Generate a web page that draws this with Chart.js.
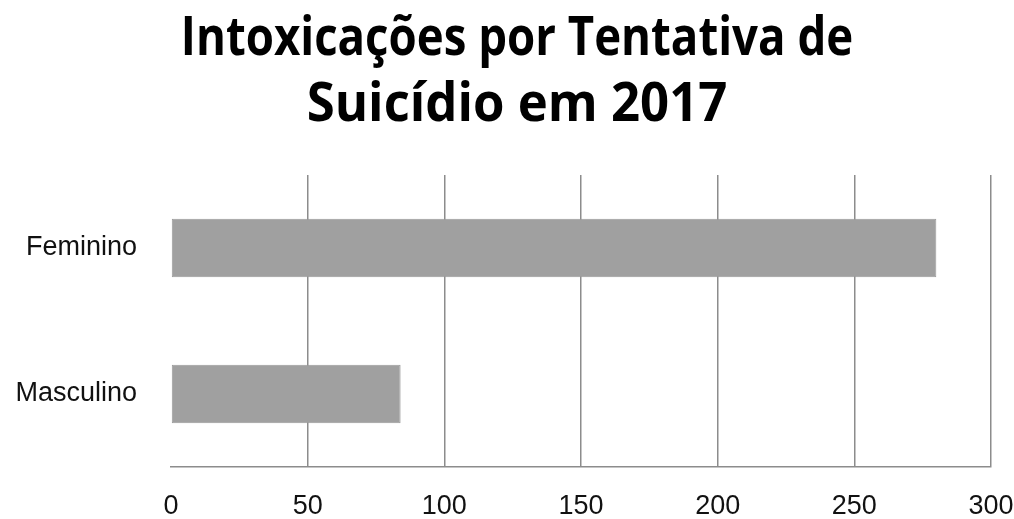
<!DOCTYPE html>
<html>
<head>
<meta charset="utf-8">
<script src="https://cdn.jsdelivr.net/npm/chart.js@4/dist/chart.umd.min.js"></script>
<style>
  html, body { margin: 0; padding: 0; background: #fff; }
  #wrap { width: 1014px; height: 519px; }
</style>
</head>
<body>
<div id="wrap"><canvas id="chart"></canvas></div>
<script>
// categorias e valores
const categorias = ['Feminino', 'Masculino'];
const casos = [280, 84];
const tituloLinhas = ['Intoxicações por Tentativa de', 'Suicídio em 2017'];
const eixoMax = 300;
const eixoPasso = 50;

const corGrade = '#8c8c8c';
const fonteEixo = { family: '"Liberation Sans", Arial', size: 27 };

// título em duas linhas, fonte pesada e estreita
const tituloFonte = '700 53px "Open Sans"';
const tituloCentroX = 517;
const tituloBase = 55;
const tituloEntrelinha = 66;
const tituloEscalaX = [0.86, 0.96];

const tituloPlugin = {
    id: 'tituloCondensado',
    afterDraw(chart) {
        const ctx = chart.ctx;
        ctx.save();
        ctx.font = tituloFonte;
        ctx.fillStyle = '#000';
        ctx.textAlign = 'center';
        ctx.textBaseline = 'alphabetic';
        tituloLinhas.forEach((linha, i) => {
            ctx.save();
            ctx.translate(tituloCentroX, tituloBase + i * tituloEntrelinha);
            ctx.scale(tituloEscalaX[i], 1);
            ctx.fillText(linha, 0, 0);
            ctx.restore();
        });
        ctx.restore();
    }
};

new Chart(document.getElementById('chart'), {
    type: 'bar',
    data: {
        labels: categorias,
        datasets: [{
            data: casos,
            backgroundColor: '#a0a0a0',
            borderColor: '#999999',
            borderWidth: 1,
            borderSkipped: false,
            categoryPercentage: 0.8,
            barPercentage: 0.5
        }]
    },
    options: {
        indexAxis: 'y',
        responsive: true,
        maintainAspectRatio: false,
        animation: false,
        layout: { padding: { left: 0, right: 0, top: 175, bottom: 0 } },
        plugins: {
            legend: { display: false },
            tooltip: { enabled: false },
            title: { display: false }
        },
        scales: {
            x: {
                min: 0,
                max: eixoMax,
                ticks: {
                    stepSize: eixoPasso,
                    color: '#111',
                    padding: 23,
                    font: fonteEixo
                },
                grid: {
                    color: c => c.index === 0 ? 'rgba(0,0,0,0)' : corGrade,
                    lineWidth: 1.5,
                    drawTicks: false
                },
                border: { display: true, color: corGrade, width: 1.5 },
                afterFit: s => { s.height = 52; s.paddingRight = 23; s.paddingLeft = 0; }
            },
            y: {
                ticks: {
                    color: '#111',
                    padding: 34,
                    font: fonteEixo
                },
                grid: { display: false, drawTicks: false },
                border: { display: false },
                afterFit: s => { s.width = 171; s.paddingTop = 0; s.paddingBottom = 0; }
            }
        }
    },
    plugins: [tituloPlugin]
});
</script>
</body>
</html>
